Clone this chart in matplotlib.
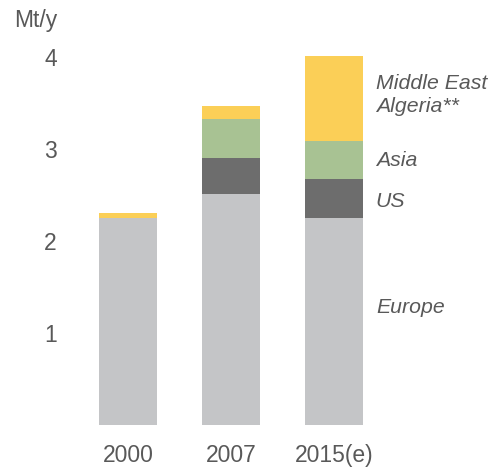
import matplotlib.pyplot as plt
import numpy as np

years = ['2000', '2007', '2015(e)']
series = ['Europe', 'US', 'Asia', 'Middle East\nAlgeria**']
europe = [2.25, 2.51, 2.25]
us = [0.0, 0.39, 0.42]
asia = [0.0, 0.43, 0.42]
middle_east = [0.05, 0.14, 0.92]

colors = ['#c4c5c7', '#6d6d6d', '#a8c293', '#fbcf57']
text_color = '#595959'

plt.rcParams['font.family'] = ['Liberation Sans', 'DejaVu Sans']

fig = plt.figure(figsize=(4.9, 4.7), dpi=100)
ax = fig.add_axes([0.156, 0.0957, 0.63, 0.8415])

x = np.arange(len(years))
width = 0.56
bottom = np.zeros(len(years))
mids = []
for vals, color in zip([europe, us, asia, middle_east], colors):
    ax.bar(x, vals, width, bottom=bottom, color=color)
    mids.append(bottom + np.array(vals) / 2)
    bottom = bottom + np.array(vals)

# series labels to the right of the last bar
label_y = [mids[0][-1] + 0.15, mids[1][-1] - 0.03, mids[2][-1], mids[3][-1] + 0.04]
for name, yv in zip(series, label_y):
    ax.text(2.41, yv, name, ha='left', va='center', fontsize=15.3,
            style='italic', color=text_color, clip_on=False, linespacing=1.3)

ax.set_xlim(-0.5, 2.5)
ax.set_ylim(0, 4.3)
ax.set_xticks(x)
ax.set_xticklabels(years)
ax.set_yticks([1, 2, 3, 4])
ax.tick_params(axis='both', length=0, labelsize=16.5, colors=text_color)
ax.tick_params(axis='y', pad=14)
ax.tick_params(axis='x', pad=14)
for s in ax.spines.values():
    s.set_visible(False)

fig.text(57 / 490, 1 - 20 / 470, 'Mt/y', ha='right', va='center',
         fontsize=16.5, color=text_color)

fig.savefig('out.png', dpi=100)
